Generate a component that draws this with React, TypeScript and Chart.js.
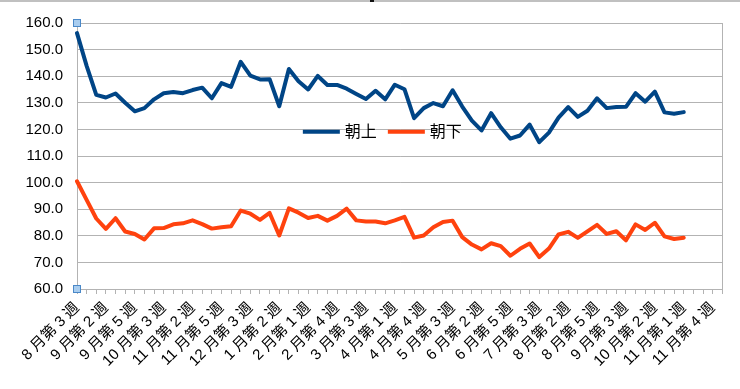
import React, { useEffect, useRef } from "react";
import { Chart, registerables } from "chart.js";

Chart.register(...registerables);

const weekLabels: string[] = [
  "8 月第 3 週", "8 月第 4 週", "9 月第 1 週", "9 月第 2 週", "9 月第 3 週", "9 月第 4 週",
  "9 月第 5 週", "10 月第 1 週", "10 月第 2 週", "10 月第 3 週", "10 月第 4 週", "11 月第 1 週",
  "11 月第 2 週", "11 月第 3 週", "11 月第 4 週", "11 月第 5 週", "12 月第 1 週", "12 月第 2 週",
  "12 月第 3 週", "12 月第 4 週", "1 月第 1 週", "1 月第 2 週", "1 月第 3 週", "1 月第 4 週",
  "2 月第 1 週", "2 月第 2 週", "2 月第 3 週", "2 月第 4 週", "3 月第 1 週", "3 月第 2 週",
  "3 月第 3 週", "3 月第 4 週", "3 月第 5 週", "4 月第 1 週", "4 月第 2 週", "4 月第 3 週",
  "4 月第 4 週", "5 月第 1 週", "5 月第 2 週", "5 月第 3 週", "5 月第 4 週", "6 月第 1 週",
  "6 月第 2 週", "6 月第 3 週", "6 月第 4 週", "6 月第 5 週", "7 月第 1 週", "7 月第 2 週",
  "7 月第 3 週", "7 月第 4 週", "8 月第 1 週", "8 月第 2 週", "8 月第 3 週", "8 月第 4 週",
  "8 月第 5 週", "9 月第 1 週", "9 月第 2 週", "9 月第 3 週", "9 月第 4 週", "10 月第 1 週",
  "10 月第 2 週", "10 月第 3 週", "10 月第 4 週", "11 月第 1 週", "11 月第 2 週", "11 月第 3 週",
  "11 月第 4 週", "12 月第 1 週",
];

const seriesNames: string[] = ["朝上", "朝下"];

const asaUe: number[] = [
  156.2, 143.9, 133.0, 132.0, 133.5, 130.0, 126.8, 128.0, 131.3, 133.6,
  134.1, 133.6, 134.8, 135.7, 131.7, 137.4, 136.0, 145.4, 140.2, 138.8,
  138.9, 128.7, 142.7, 138.1, 135.0, 140.1, 136.7, 136.7, 135.3, 133.3,
  131.4, 134.5, 131.3, 136.8, 135.1, 124.2, 128.0, 129.9, 128.7, 134.7,
  128.6, 123.3, 119.6, 126.1, 120.8, 116.5, 117.7, 121.8, 115.2, 118.8,
  124.4, 128.4, 124.7, 127.0, 131.7, 128.0, 128.4, 128.5, 133.6, 130.4,
  134.2, 126.4, 125.9, 126.5,
];

const asaShita: number[] = [
  100.5, 93.5, 86.5, 82.6, 86.6, 81.6, 80.7, 78.6, 82.8, 82.9,
  84.3, 84.7, 85.8, 84.4, 82.7, 83.2, 83.6, 89.5, 88.3, 86.0,
  88.6, 80.1, 90.3, 88.7, 86.7, 87.5, 85.7, 87.5, 90.2, 85.8,
  85.4, 85.4, 84.7, 85.8, 87.1, 79.3, 80.1, 83.2, 85.2, 85.7,
  79.5, 76.7, 74.9, 77.2, 76.1, 72.5, 75.1, 77.1, 72.0, 75.2,
  80.5, 81.5, 79.2, 81.7, 84.1, 80.7, 81.7, 78.3, 84.3, 82.2,
  84.9, 79.8, 78.8, 79.3,
];

const yMin = 60;
const yMax = 160;
const yStep = 10;

const BLUE = "#004586";
const ORANGE = "#ff420e";
const GRID = "#b3b3b3";
const FONT = "'Liberation Sans', 'Noto Sans CJK JP', Arial, sans-serif";

const decorPlugin = {
  id: "decor",
  beforeDatasetsDraw(chart: any) {
    const { ctx, chartArea } = chart;
    ctx.save();
    ctx.strokeStyle = GRID;
    ctx.lineWidth = 1;
    ctx.beginPath();
    ctx.moveTo(Math.round(chartArea.right) + 0.5, chartArea.top);
    ctx.lineTo(Math.round(chartArea.right) + 0.5, chartArea.bottom);
    ctx.stroke();
    ctx.restore();
  },
  afterDraw(chart: any) {
    const { ctx, chartArea } = chart;
    ctx.save();
    // top strip
    ctx.fillStyle = "#c0c0c0";
    ctx.fillRect(0, 0, chart.width, 2);
    ctx.fillStyle = "#111";
    ctx.fillRect(370, 0, 4, 2);

    // legend inside plot
    const ds = chart.data.datasets;
    let x = chartArea.left + 0.35 * (chartArea.right - chartArea.left);
    const y = chartArea.top + 0.409 * (chartArea.bottom - chartArea.top);
    ctx.font = `16px ${FONT}`;
    ctx.textBaseline = "middle";
    ctx.textAlign = "left";
    ds.forEach((d: any) => {
      ctx.strokeStyle = d.borderColor;
      ctx.lineWidth = 4;
      ctx.beginPath();
      ctx.moveTo(x, y);
      ctx.lineTo(x + 37, y);
      ctx.stroke();
      x += 42;
      ctx.fillStyle = "#000";
      ctx.fillText(d.label, x, y + 1);
      x += ctx.measureText(d.label).width + 11;
    });

    // selection handles
    const drawHandle = (cx: number, cy: number) => {
      ctx.fillStyle = "#a9cdef";
      ctx.strokeStyle = "#4a88c8";
      ctx.lineWidth = 1;
      ctx.fillRect(cx - 4, cy - 4, 8, 8);
      ctx.strokeRect(cx - 3.5, cy - 3.5, 7, 7);
    };
    drawHandle(Math.round(chartArea.left), Math.round(chartArea.top));
    drawHandle(Math.round(chartArea.left), Math.round(chartArea.bottom));
    ctx.restore();
  },
};

export default function App() {
  const canvasRef = useRef<HTMLCanvasElement | null>(null);

  useEffect(() => {
    if (!canvasRef.current) return;
    const chart = new Chart(canvasRef.current, {
      type: "line",
      data: {
        labels: weekLabels,
        datasets: [
          {
            label: seriesNames[0],
            data: asaUe,
            borderColor: BLUE,
            backgroundColor: BLUE,
            borderWidth: 4,
            pointRadius: 0,
            borderJoinStyle: "round",
            borderCapStyle: "round",
            tension: 0,
          },
          {
            label: seriesNames[1],
            data: asaShita,
            borderColor: ORANGE,
            backgroundColor: ORANGE,
            borderWidth: 4,
            pointRadius: 0,
            borderJoinStyle: "round",
            borderCapStyle: "round",
            tension: 0,
          },
        ],
      },
      options: {
        responsive: false,
        animation: false,
        devicePixelRatio: 1,
        layout: { padding: { top: 20, right: 8, left: 0, bottom: 0 } },
        plugins: {
          legend: { display: false },
          title: { display: false },
          tooltip: { enabled: false },
        },
        font: { family: FONT },
        scales: {
          x: {
            offset: false,
            grid: {
              drawOnChartArea: false,
              drawTicks: true,
              tickLength: 5,
              color: GRID,
            },
            border: { color: GRID },
            ticks: {
              autoSkip: false,
              maxRotation: 45,
              minRotation: 45,
              padding: 5,
              color: "#000",
              font: { family: FONT, size: 15 },
              callback: (_v: any, i: number) => (i % 3 === 0 ? weekLabels[i] : ""),
            },
            afterFit: (scale: any) => {
              scale.height = 100;
            },
          },
          y: {
            min: yMin,
            max: yMax,
            grid: { color: GRID, drawTicks: false },
            border: { color: GRID },
            ticks: {
              stepSize: yStep,
              padding: 14,
              color: "#000",
              font: { family: FONT, size: 15 },
              callback: (v: any) => Number(v).toFixed(1),
            },
            afterFit: (scale: any) => {
              scale.width = 77;
            },
          },
        },
      },
      plugins: [decorPlugin],
    });
    return () => chart.destroy();
  }, []);

  return (
    <div style={{ position: "fixed", left: 0, top: 0, width: 740, height: 389, background: "#fff" }}>
      <canvas ref={canvasRef} width={740} height={389} style={{ width: 740, height: 389, display: "block" }} />
    </div>
  );
}
